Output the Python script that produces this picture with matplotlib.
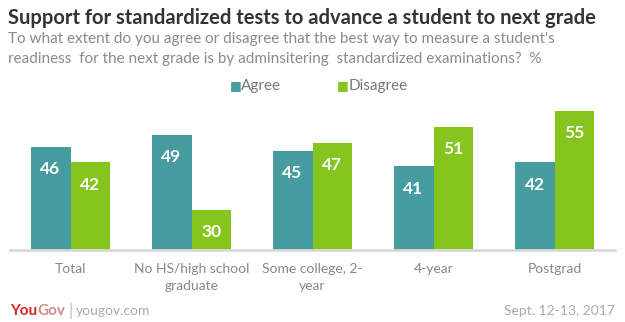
import numpy as np
import matplotlib.pyplot as plt

categories = ["Total", "No HS/high school\ngraduate", "Some college, 2-\nyear", "4-year", "Postgrad"]
agree = [46, 49, 45, 41, 42]
disagree = [42, 30, 47, 51, 55]

teal = "#479c9f"
green = "#86c51e"

plt.rcParams['font.family'] = ['Lato', 'DejaVu Sans']

fig = plt.figure(figsize=(6.25, 3.22), dpi=100)
fig.patch.set_facecolor("white")
ax = fig.add_axes([0.016, 0.2236, 0.968, 0.4944])

x = np.arange(len(categories))
w = 0.33
b1 = ax.bar(x - w / 2, agree, w, color=teal)
b2 = ax.bar(x + w / 2, disagree, w, color=green)

ax.set_ylim(20, 60)
ax.set_xlim(-0.5, 4.5)

for bars, vals in [(b1, agree), (b2, disagree)]:
    for r, v in zip(bars, vals):
        ax.annotate(str(v), (r.get_x() + r.get_width() / 2, v), xytext=(0, -16),
                    textcoords="offset points", ha="center", va="center",
                    color="white", fontsize=12.5, fontweight="bold")

for s in ["top", "right", "left"]:
    ax.spines[s].set_visible(False)
ax.spines["bottom"].set_color("#d9d9d9")
ax.spines["bottom"].set_linewidth(2)
ax.set_yticks([])
ax.set_xticks(x)
ax.set_xticklabels(categories, color="#888888", fontsize=10, linespacing=1.55)
ax.tick_params(axis="x", length=0, pad=9)

# titles
fig.text(0.013, 0.945, "Support for standardized tests to advance a student to next grade",
         fontsize=14.5, fontweight="bold", color="#333333", va="center")
fig.text(0.013, 0.878, "To what extent do you agree or disagree that the best way to measure a student's",
         fontsize=11, color="#8a8a8a", va="center")
fig.text(0.013, 0.818, "readiness  for the next grade is by adminsitering  standardized examinations?  %",
         fontsize=11, color="#8a8a8a", va="center")

# legend
for lx, lab, c in [(0.368, "Agree", teal), (0.539, "Disagree", green)]:
    fig.text(lx, 0.733, "\u25a0", color=c, fontsize=9, va="center", family="DejaVu Sans")
    fig.text(lx + 0.018, 0.733, lab, color="#777777", fontsize=11, va="center")

# footer
you = fig.text(0.016, 0.035, "You", color="#d7261e", fontsize=11, fontweight="bold", va="center")
gov = fig.text(0, 0, "Gov", color="#c98f8e", fontsize=11, fontweight="bold", va="center")
fig.canvas.draw()
bb = you.get_window_extent()
gov.set_position((bb.x1 / fig.bbox.width + 0.001, 0.035))
fig.text(0.11, 0.035, "|", color="#bbbbbb", fontsize=12, va="center")
fig.text(0.122, 0.035, "yougov.com", color="#aaaaaa", fontsize=10, va="center")
fig.text(0.984, 0.035, "Sept. 12-13, 2017", color="#aaaaaa", fontsize=10, va="center", ha="right")

fig.savefig("out.png", dpi=100)
